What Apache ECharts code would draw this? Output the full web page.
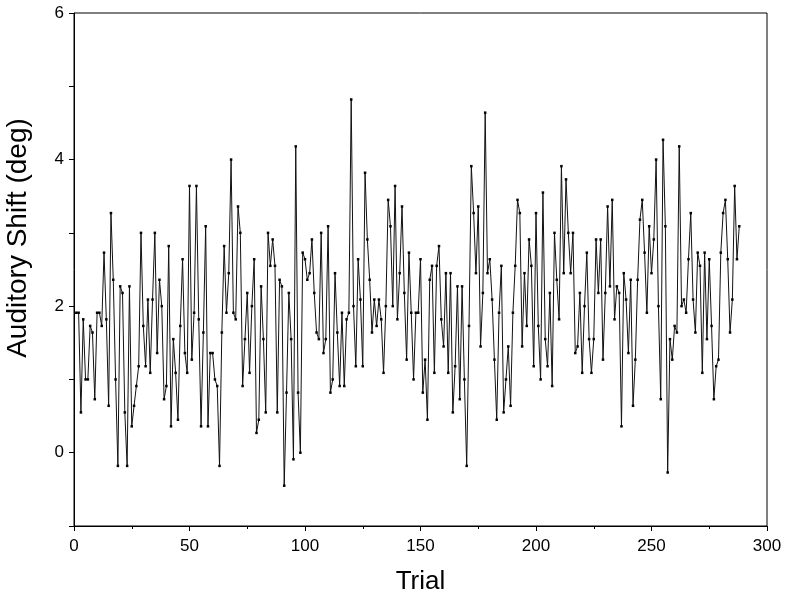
<!DOCTYPE html>
<html>
<head>
<meta charset="utf-8">
<script src="https://cdn.jsdelivr.net/npm/echarts@6/dist/echarts.min.js"></script>
<style>html,body{margin:0;padding:0;background:#fff}#c{width:786px;height:604px}</style>
</head>
<body>
<div id="c"></div>
<script>
const xTicks = [0, 50, 100, 150, 200, 250, 300];
const yTickLabels = [0, 2, 4, 6];
const shift = [
1.91,1.91,0.55,1.82,1.00,1.00,1.73,1.64,0.73,1.91,1.91,1.73,2.73,1.82,0.64,3.27,2.36,1.00,-0.18,2.27,2.18,0.55,-0.18,2.27,
0.36,0.64,0.91,1.18,3.00,1.73,1.18,2.09,1.09,2.09,3.00,1.36,2.36,2.00,0.73,0.91,2.82,0.36,1.55,1.09,0.45,1.73,2.64,1.36,
1.09,3.64,1.27,1.91,3.64,1.82,0.36,1.64,3.09,0.36,1.36,1.36,1.00,0.91,-0.18,1.64,2.82,1.91,2.45,4.00,1.91,1.82,3.36,3.00,
0.91,1.55,2.18,1.09,2.00,2.64,0.27,0.45,2.27,1.55,0.55,3.00,2.55,2.91,2.55,0.55,2.36,2.27,-0.45,0.82,2.18,1.55,-0.09,4.18,
0.82,0.00,2.73,2.64,2.36,2.45,2.91,2.18,1.64,1.55,3.00,1.36,1.55,3.09,0.82,1.00,2.45,1.64,0.91,1.91,0.91,1.82,1.91,4.82,
2.00,1.18,2.64,2.09,1.18,3.82,2.91,2.36,1.64,2.09,1.73,2.09,1.82,1.09,2.00,3.45,3.09,2.00,3.64,1.82,2.45,3.36,2.18,
1.27,2.73,1.91,1.00,1.91,1.91,2.64,0.82,1.27,0.45,2.36,2.55,1.09,2.55,2.82,1.82,1.45,2.45,1.09,2.45,0.55,1.18,2.27,0.73,
2.27,1.00,-0.18,1.73,3.91,3.27,2.45,3.36,1.45,2.18,4.64,2.45,2.64,2.09,1.27,0.45,1.91,2.55,0.55,1.00,1.45,0.64,1.91,2.55,
3.45,3.27,1.45,2.45,1.73,2.91,2.55,1.18,3.27,1.73,1.00,3.55,1.55,1.18,2.18,0.91,3.00,2.36,1.82,3.91,2.45,3.73,3.00,2.45,
3.00,1.36,1.45,2.18,1.09,2.00,2.73,1.55,1.09,1.55,2.91,2.18,2.91,1.27,2.18,3.36,2.27,3.45,1.82,2.27,2.18,0.36,2.45,
2.09,1.36,2.36,0.64,1.27,2.36,3.18,3.45,2.73,1.91,3.09,2.45,2.91,4.00,2.00,0.73,4.27,3.09,-0.27,1.55,1.27,1.73,1.64,4.18,
2.00,2.09,1.91,2.64,3.27,2.09,1.64,2.73,2.55,1.09,2.73,1.55,2.64,1.73,0.73,1.18,1.27,2.73,3.27,3.45,2.64,1.64,2.09,3.64,2.64,3.09
];
const trials = shift.map((v, i) => i + 1);
const seriesData = trials.map((t, i) => [t, shift[i]]);

const chart = echarts.init(document.getElementById('c'), null, {renderer: 'canvas'});
const font = 'Liberation Sans, Arial, sans-serif';
chart.setOption({
  animation: false,
  grid: {left: 74, top: 13, width: 693, height: 513, show: true, borderColor: '#000', borderWidth: 1, backgroundColor: 'transparent'},
  graphic: [{
    type: 'text', x: 18, y: 238, rotation: Math.PI / 2,
    style: {text: 'Auditory Shift (deg)', fontFamily: font, fontSize: 28, fill: '#000', align: 'center', verticalAlign: 'middle'}
  }],
  xAxis: {
    type: 'value', min: 0, max: 300, interval: 50,
    name: 'Trial', nameLocation: 'middle', nameGap: 43,
    nameTextStyle: {fontFamily: font, fontSize: 26, color: '#000'},
    axisLine: {show: true, onZero: false, lineStyle: {color: '#000', width: 1}},
    axisTick: {show: true, inside: false, length: 5, lineStyle: {color: '#000'}},
    minorTick: {show: true, splitNumber: 2, length: 3, lineStyle: {color: '#000'}},
    axisLabel: {fontFamily: font, fontSize: 17, color: '#000', margin: 12,
      formatter: v => xTicks.includes(v) ? String(v) : ''},
    splitLine: {show: false}
  },
  yAxis: {
    type: 'value', min: -1, max: 6, interval: 1,
    axisLine: {show: true, onZero: false, lineStyle: {color: '#000', width: 1}},
    axisTick: {show: true, inside: false, length: 5, lineStyle: {color: '#000'}},
    axisLabel: {fontFamily: font, fontSize: 17, color: '#000', margin: 10,
      formatter: v => yTickLabels.includes(v) ? String(v) : ''},
    splitLine: {show: false}
  },
  series: [{
    type: 'line',
    data: seriesData,
    symbol: 'rect', symbolSize: 2.5, showSymbol: true,
    itemStyle: {color: '#000'},
    lineStyle: {color: '#111', width: 1},
    silent: true
  }]
});
</script>
</body>
</html>
